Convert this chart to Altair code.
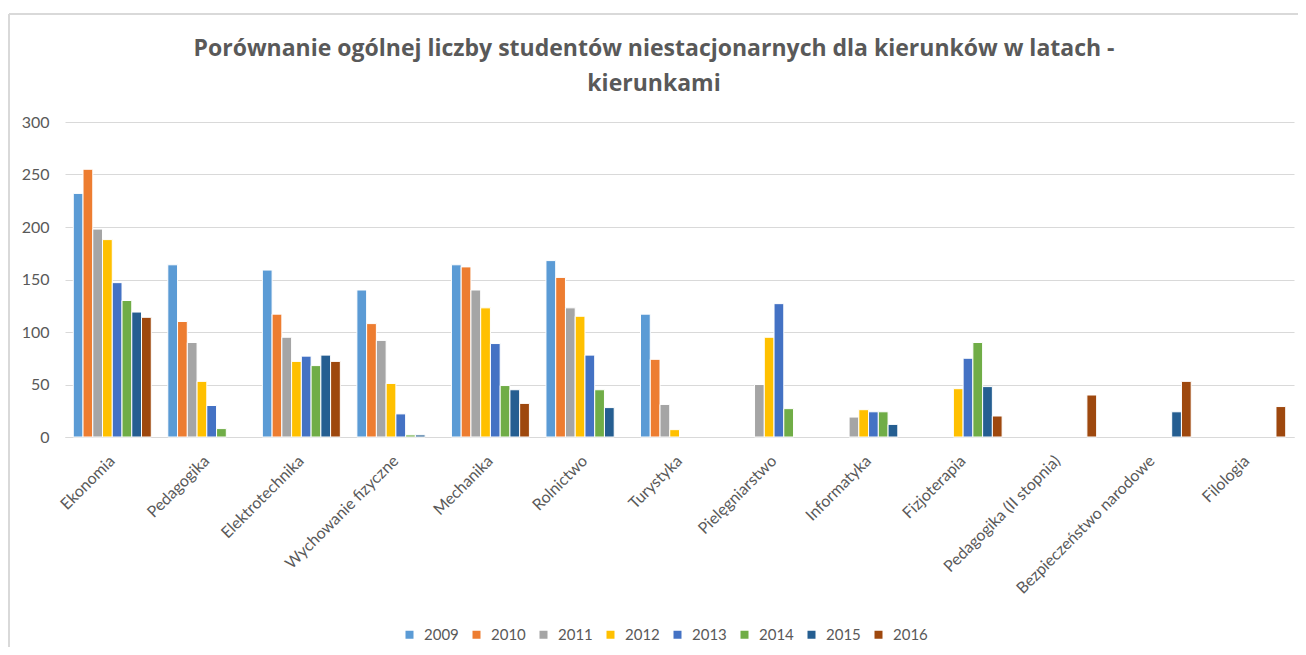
import altair as alt
import pandas as pd

categories = ["Ekonomia", "Pedagogika", "Elektrotechnika", "Wychowanie fizyczne",
              "Mechanika", "Rolnictwo", "Turystyka", "Pielęgniarstwo", "Informatyka",
              "Fizjoterapia", "Pedagogika (II stopnia)", "Bezpieczeństwo narodowe", "Filologia"]

years = ["2009", "2010", "2011", "2012", "2013", "2014", "2015", "2016"]

v2009 = [232, 164, 159, 140, 164, 168, 117, None, None, None, None, None, None]
v2010 = [255, 110, 117, 108, 162, 152, 74, None, None, None, None, None, None]
v2011 = [198, 90, 95, 92, 140, 123, 31, 50, 19, None, None, None, None]
v2012 = [188, 53, 72, 51, 123, 115, 7, 95, 26, 46, None, None, None]
v2013 = [147, 30, 77, 22, 89, 78, None, 127, 24, 75, None, None, None]
v2014 = [130, 8, 68, 2, 49, 45, None, 27, 24, 90, None, None, None]
v2015 = [119, None, 78, 2, 45, 28, None, None, 12, 48, None, 24, None]
v2016 = [114, None, 72, None, 32, None, None, None, None, 20, 40, 53, 29]

series = [v2009, v2010, v2011, v2012, v2013, v2014, v2015, v2016]
colors = ["#5B9BD5", "#ED7D31", "#A5A5A5", "#FFC000", "#4472C4", "#70AD47", "#255E91", "#9E480E"]

rows = []
for y, vals in zip(years, series):
    for c, v in zip(categories, vals):
        if v is not None:
            rows.append({"kierunek": c, "rok": y, "liczba": v})
df = pd.DataFrame(rows)

FONT = "Lato"
GRAY = "#595959"
LINE = "#D9D9D9"

bars = alt.Chart(df).mark_bar(stroke="white", strokeWidth=1).encode(
    x=alt.X("kierunek:N", sort=categories, title=None,
            scale=alt.Scale(paddingInner=0.175, paddingOuter=0.0875),
            axis=alt.Axis(labelAngle=-45, labelAlign="right", labelBaseline="middle",
                          labelOffset=0, labelPadding=21, ticks=False,
                          domainColor=LINE, labelColor=GRAY, labelFont=FONT,
                          labelFontSize=16, labelLimit=400, grid=False)),
    xOffset=alt.XOffset("rok:N", sort=years, scale=alt.Scale(domain=years, paddingInner=0, paddingOuter=0)),
    y=alt.Y("liczba:Q", title=None,
            scale=alt.Scale(domain=[0, 300]),
            axis=alt.Axis(values=[0, 50, 100, 150, 200, 250, 300], ticks=False, domain=False,
                          gridColor=LINE, labelColor=GRAY, labelFont=FONT,
                          labelFontSize=16, labelPadding=16)),
    color=alt.Color("rok:N", sort=years,
                    scale=alt.Scale(domain=years, range=colors),
                    legend=alt.Legend(title=None, orient="none", direction="horizontal",
                                      columns=8, legendX=337, legendY=505,
                                      symbolType="square", symbolSize=64,
                                      symbolStrokeWidth=0, labelFont=FONT,
                                      labelFontSize=15, labelColor=GRAY,
                                      labelOffset=7, columnPadding=10)),
)

frame_left = alt.Chart(df).mark_rule(color=LINE, strokeWidth=2).encode(
    x=alt.value(-56), x2=alt.value(-56), y=alt.value(-108), y2=alt.value(540))
frame_top = alt.Chart(df).mark_rule(color=LINE, strokeWidth=2).encode(
    x=alt.value(-56), x2=alt.value(1240), y=alt.value(-108), y2=alt.value(-108))

chart = alt.layer(frame_left, frame_top, bars).properties(
    width=1229, height=315,
    autosize=alt.AutoSizeParams(type="none"),
    padding={"left": 57, "top": 114, "right": 4, "bottom": 210},
    title=alt.TitleParams(
        text=["Porównanie ogólnej liczby studentów niestacjonarnych dla kierunków w latach -",
              "kierunkami"],
        font="Open Sans", fontSize=23, fontWeight="bold", color=GRAY,
        anchor="middle", frame="bounds", dx=-3, offset=-83, lineHeight=35),
).configure_view(stroke=None)

chart.save("out.html", embed_options={"renderer": "svg", "actions": False})
